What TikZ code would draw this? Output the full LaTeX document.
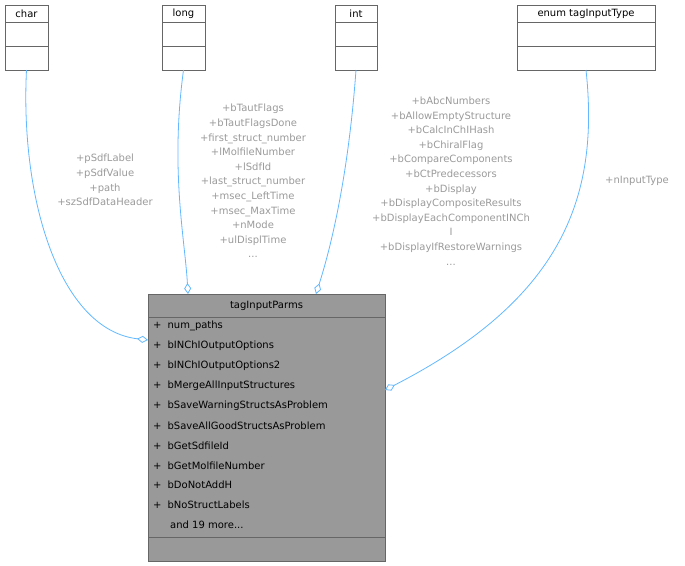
\documentclass[tikz,border=0pt]{standalone}
\usepackage{fontspec}
\setmainfont{DejaVu Sans}
\usetikzlibrary{arrows.meta}
\definecolor{edge}{HTML}{63B8FF}
\definecolor{lbl}{HTML}{9A9A9A}
\definecolor{cls}{HTML}{999999}
\begin{document}
\begin{tikzpicture}[x=1pt,y=-1pt,font=\fontsize{10}{12}\selectfont,
  box/.style={draw=black!60,fill=white,line width=0.7pt},
  lab/.style={text=lbl,align=center,font=\fontsize{10}{14.6}\selectfont,inner sep=0pt},
  agg/.style={draw=edge,line width=0.8pt,-{Diamond[open,fill=white,length=11pt,width=7pt]}}]
\useasboundingbox (0,0) rectangle (685,565);
% small classes
\foreach \n/\xa/\xb/\t in {char/5/48/char,long/162/205/long,int/335/377/int,enum/517/655/enum tagInputType}{
  \draw[box] (\xa,5) rectangle (\xb,70);
  \draw[black!60,line width=0.7pt] (\xa,22)--(\xb,22) (\xa,46)--(\xb,46);
  \node[anchor=center,inner sep=0pt] (\n) at ({(\xa+\xb)/2},13.5) {\t};
  \coordinate (\n b) at ({(\xa+\xb)/2},70);
}
% main class
\draw[draw=black!60,fill=cls,line width=0.7pt] (148,294) rectangle (385,561);
\draw[black!60,line width=0.7pt] (148,317)--(385,317) (148,537)--(385,537);
\node (main) at (266.5,305.5) {tagInputParms};
\foreach \i/\t in {0/num\_paths,1/bINChIOutputOptions,2/bINChIOutputOptions2,3/bMergeAllInputStructures,4/bSaveWarningStructsAsProblem,5/bSaveAllGoodStructsAsProblem,6/bGetSdfileId,7/bGetMolfileNumber,8/bDoNotAddH,9/bNoStructLabels}{
  \node[anchor=west,inner sep=0pt] at (153,326+\i*19.9) {+\hspace{6pt}\t};}
\node[anchor=west,inner sep=0pt] at (170,525) {and 19 more...};
\coordinate (mc) at (148,340);
\coordinate (ml) at (188,294);
\coordinate (mi) at (316,294);
\coordinate (me) at (385,390);
% edges
\draw[agg] (charb) .. controls (20,200) and (60,330) .. (mc);
\draw[agg] (longb) .. controls (170,170) and (185,240) .. (ml);
\draw[agg] (intb) .. controls (348,180) and (330,250) .. (mi);
\draw[agg] (enumb) .. controls (600,200) and (560,300) .. (me);
% labels
\node[lab] (l1) at (105,180) {+pSdfLabel\\+pSdfValue\\+path\\+szSdfDataHeader};
\node[lab] (l2) at (253,181) {+bTautFlags\\+bTautFlagsDone\\+first\_struct\_number\\+lMolfileNumber\\+lSdfId\\+last\_struct\_number\\+msec\_LeftTime\\+msec\_MaxTime\\+nMode\\+ulDisplTime\\...};
\node[lab] (l3) at (451,181) {+bAbcNumbers\\+bAllowEmptyStructure\\+bCalcInChIHash\\+bChiralFlag\\+bCompareComponents\\+bCtPredecessors\\+bDisplay\\+bDisplayCompositeResults\\+bDisplayEachComponentINCh\\I\\+bDisplayIfRestoreWarnings\\...};
\node[lab] (l4) at (637,181) {+nInputType};
\end{tikzpicture}
\end{document}
